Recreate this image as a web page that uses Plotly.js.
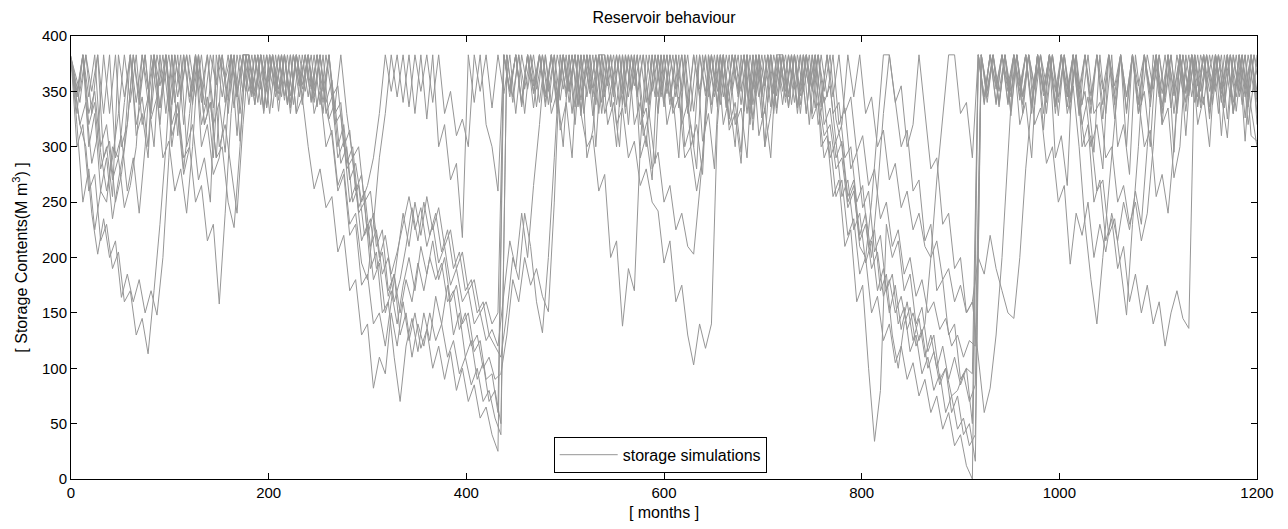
<!DOCTYPE html>
<html>
<head>
<meta charset="utf-8">
<script src="https://cdn.plot.ly/plotly-3.0.1.min.js"></script>
<style>
  html, body { margin: 0; padding: 0; background: #ffffff; }
  #chart { width: 1288px; height: 529px; }
</style>
</head>
<body>
<div id="chart"></div>
<script>
// sample months (two sampling phases)
const monthsA = [0,6,12,18,24,30,36,42,48,54,60,66,72,78,84,90,96,102,108,114,120,126,132,138,144,150,156,162,168,174,180,186,192,198,204,210,216,222,228,234,240,246,252,258,264,270,276,282,288,294,300,306,312,318,324,330,336,342,348,354,360,366,372,378,384,390,396,402,408,414,420,426,432,438,444,450,456,462,468,474,480,486,492,498,504,510,516,522,528,534,540,546,552,558,564,570,576,582,588,594,600,606,612,618,624,630,636,642,648,654,660,666,672,678,684,690,696,702,708,714,720,726,732,738,744,750,756,762,768,774,780,786,792,798,804,810,816,822,828,834,840,846,852,858,864,870,876,882,888,894,900,906,912,918,924,930,936,942,948,954,960,966,972,978,984,990,996,1002,1008,1014,1020,1026,1032,1038,1044,1050,1056,1062,1068,1074,1080,1086,1092,1098,1104,1110,1116,1122,1128,1134,1140,1146,1152,1158,1164,1170,1176,1182,1188,1194,1200];
const monthsB = [0,9,15,21,27,33,39,45,51,57,63,69,75,81,87,93,99,105,111,117,123,129,135,141,147,153,159,165,171,177,183,189,195,201,207,213,219,225,231,237,243,249,255,261,267,273,279,285,291,297,303,309,315,321,327,333,339,345,351,357,363,369,375,381,387,393,399,405,411,417,423,429,435,441,447,453,459,465,471,477,483,489,495,501,507,513,519,525,531,537,543,549,555,561,567,573,579,585,591,597,603,609,615,621,627,633,639,645,651,657,663,669,675,681,687,693,699,705,711,717,723,729,735,741,747,753,759,765,771,777,783,789,795,801,807,813,819,825,831,837,843,849,855,861,867,873,879,885,891,897,903,909,915,921,927,933,939,945,951,957,963,969,975,981,987,993,999,1005,1011,1017,1023,1029,1035,1041,1047,1053,1059,1065,1071,1077,1083,1089,1095,1101,1107,1113,1119,1125,1131,1137,1143,1149,1155,1161,1167,1173,1179,1185,1191,1197,1200];

// storage contents (M m^3) of each simulation
const sim1 = [
380,300,320,260,275,215,230,190,205,160,
170,130,145,113,170,230,300,383,345,383,
340,383,352,383,335,383,360,383,345,383,
350,383,338,383,355,383,342,383,330,345,
300,262,280,245,255,205,220,170,180,130,
140,82,110,95,150,120,160,125,150,118,
135,100,120,90,115,80,100,70,85,55,
65,40,25,383,350,383,340,383,355,383,
345,383,338,383,350,383,330,300,310,260,
275,200,215,138,190,170,300,383,350,383,
340,383,352,383,336,383,345,383,330,383,
320,345,300,383,330,383,310,335,290,383,
338,383,352,383,330,383,320,345,290,305,
255,270,225,240,195,215,170,190,150,175,
135,160,125,145,110,130,100,120,90,110,
85,100,95,383,345,383,340,383,355,383,
342,383,330,383,350,383,336,383,345,383,
352,383,338,383,325,383,348,383,333,383,
330,350,300,383,320,383,295,383,310,383,
345,383,330,383,352,383,340,383,326,383,
350];
const sim2 = [
378,320,300,240,203,235,200,215,164,185,
160,180,150,170,148,200,290,383,345,383,
350,383,338,383,356,383,342,383,330,383,
348,383,336,383,352,383,340,383,345,383,
352,383,340,383,320,330,280,290,240,250,
190,205,150,160,110,70,120,145,115,150,
125,165,140,175,130,150,110,125,90,105,
70,80,50,383,340,383,352,383,336,383,
350,383,342,383,330,383,355,383,338,383,
320,340,300,383,350,383,310,330,285,383,
348,383,335,383,300,320,275,383,345,383,
340,383,352,383,330,383,345,383,337,383,
350,383,335,383,320,383,300,310,255,270,
210,225,160,175,100,34,80,230,200,215,
170,185,140,155,115,130,90,100,60,75,
40,50,16,383,345,383,336,383,350,383,
338,383,355,383,330,383,345,383,340,383,
300,320,250,270,215,235,190,210,160,185,
150,175,140,160,120,150,170,145,136,383,
350,383,338,383,355,383,332,383,345,383,
365];
const sim3 = [
382,320,250,280,225,260,250,300,290,340,
383,310,330,290,383,320,383,300,340,280,
330,383,320,345,290,383,340,383,310,383,
383,346,383,335,383,352,383,340,383,356,
383,345,383,340,360,300,320,270,285,250,
265,290,330,383,350,383,340,383,330,383,
325,383,300,320,270,285,218,383,340,383,
320,300,260,383,345,383,338,383,350,383,
336,383,348,383,340,383,332,383,353,383,
345,383,320,335,290,305,265,280,250,242,
195,215,160,175,130,103,140,118,140,320,
383,345,383,338,383,352,383,330,383,346,
383,336,383,350,383,325,340,290,305,255,
270,220,235,185,200,150,165,125,140,105,
120,90,105,75,90,60,75,45,60,30,
40,12,0,383,340,383,355,383,338,383,
350,383,335,383,346,383,330,383,352,383,
340,300,310,260,270,220,235,190,148,230,
300,383,345,383,336,383,350,383,332,383,
320,345,300,383,310,383,330,383,305,383,
330];
const sim4 = [
380,345,383,300,330,260,290,235,270,300,
383,340,383,352,383,335,383,320,340,290,
300,250,265,215,230,158,240,330,383,350,
383,338,383,355,383,342,383,330,383,352,
383,340,383,330,345,290,305,250,265,215,
230,180,195,150,170,140,175,200,170,210,
185,215,180,200,160,175,140,150,115,125,
90,95,60,383,352,383,336,383,348,383,
340,383,330,383,355,383,342,383,328,383,
350,383,338,383,345,383,320,335,280,295,
250,265,225,240,210,203,260,320,383,350,
383,315,330,285,383,325,383,300,383,330,
383,345,383,338,383,350,383,320,335,290,
305,255,270,220,240,200,260,330,383,340,
355,300,320,383,330,280,290,230,240,190,
200,150,160,110,60,82,130,200,290,383,
345,383,338,383,352,383,340,383,330,355,
300,230,180,140,200,260,320,383,345,383,
338,383,352,383,330,383,346,383,340,383,
355,383,336,383,348,383,330,383,345,383,
340];
const sim5 = [
381,340,383,350,383,330,383,290,310,260,
290,240,300,383,345,383,332,383,350,383,
338,383,320,340,290,300,250,227,300,383,
345,383,332,383,350,383,338,383,355,383,
342,383,330,383,330,340,285,300,245,260,
210,225,185,200,160,180,210,245,215,250,
220,240,205,225,190,205,170,180,150,160,
130,120,110,150,200,180,240,210,160,132,
200,290,383,350,383,336,383,348,383,340,
383,352,383,330,383,345,383,338,383,350,
383,335,383,300,320,280,383,345,383,338,
383,350,383,332,383,346,383,340,383,355,
383,338,383,350,383,335,383,345,383,320,
335,280,295,245,260,205,220,170,185,140,
155,115,130,95,110,80,95,60,75,45,
55,30,40,383,350,383,338,383,345,383,
330,383,352,383,340,383,328,383,346,383,
338,383,330,340,290,300,250,265,230,250,
215,240,300,383,345,383,336,383,350,383,
340,383,355,383,335,383,345,383,320,360,
320];
const sim6 = [
379,330,383,345,383,300,320,270,290,245,
265,300,383,340,383,355,383,338,383,320,
383,345,383,330,383,300,320,280,240,320,
383,350,383,336,383,348,383,335,383,345,
383,330,350,300,315,265,280,230,240,195,
180,230,290,330,383,345,383,336,383,350,
383,340,383,330,350,310,325,300,383,350,
383,335,383,348,383,330,383,352,383,340,
383,330,350,300,383,320,383,290,315,383,
383,336,383,348,383,320,340,300,383,345,
383,338,383,350,383,332,383,346,383,340,
383,325,383,350,383,338,383,355,383,335,
383,348,383,330,383,352,383,340,355,305,
320,383,345,383,330,345,300,315,270,285,
245,260,225,240,210,200,215,180,190,160,
175,150,160,200,185,220,190,170,150,145,
200,280,340,383,350,383,336,383,345,383,
330,350,300,320,280,383,325,383,300,383,
355,383,336,383,348,383,330,383,350,383,
338,383,325,383,345,308,383,350,383,335,
300];
const sim7 = [
380,350,383,330,383,290,305,250,275,320,
383,345,383,330,383,352,383,340,383,300,
320,270,290,250,383,345,383,335,383,350,
383,340,383,330,383,345,383,338,383,350,
383,336,383,325,340,285,300,250,265,220,
235,190,205,165,185,150,180,160,195,170,
200,180,195,160,170,135,150,120,130,100,
110,90,95,130,180,160,200,175,190,165,
151,250,383,345,383,338,383,352,383,330,
383,345,383,336,383,350,383,328,383,345,
383,330,345,290,300,260,290,383,350,383,
336,383,345,383,320,383,350,383,330,383,
345,383,338,383,352,383,340,383,330,340,
290,300,250,265,210,225,170,185,130,100,
140,155,120,135,100,115,85,100,75,80,
95,70,85,383,340,383,350,383,332,383,
345,383,320,335,285,300,250,265,194,240,
220,250,200,230,205,240,215,250,225,260,
230,300,383,345,383,335,383,350,383,340,
383,355,383,330,383,345,383,338,383,350,
383];
const sim8 = [
379,345,383,330,350,295,260,290,330,383,
340,383,320,345,300,383,330,383,310,383,
345,383,300,320,275,290,335,383,350,383,
338,383,352,383,335,383,346,383,330,383,
345,383,338,383,345,355,300,315,260,275,
220,240,200,220,185,205,230,255,225,245,
210,230,195,210,175,190,160,170,140,150,
125,135,120,170,215,190,240,200,265,320,
383,340,383,352,383,336,383,345,383,330,
383,350,383,338,383,355,383,340,383,330,
383,345,383,320,340,300,383,350,383,336,
383,320,340,295,383,315,383,300,330,383,
383,335,383,346,383,330,383,350,383,325,
300,250,265,210,200,250,320,383,383,340,
300,315,260,270,215,230,170,180,130,140,
90,100,50,383,338,383,352,383,340,383,
355,383,338,383,330,383,350,383,336,383,
345,383,330,383,352,383,338,383,345,383,
330,383,348,383,320,335,272,300,383,345,
383,338,383,350,383,325,383,345,383,310,
305];
const sim9 = [
380,320,340,285,310,383,330,383,300,320,
383,338,383,325,345,290,305,260,280,240,
300,383,320,340,290,383,330,383,305,383,
352,383,330,383,345,383,338,383,355,383,
340,383,350,383,336,383,330,290,300,250,
260,210,225,170,185,130,150,110,140,120,
150,125,140,110,125,95,110,85,100,70,
80,55,40,383,345,383,330,383,352,383,
338,383,315,340,290,383,330,383,300,383,
355,383,336,383,348,383,330,383,345,383,
320,345,290,383,332,383,305,330,280,383,
335,383,350,383,338,383,326,383,348,383,
340,383,330,383,352,383,336,383,345,383,
330,345,295,310,265,280,235,250,210,225,
185,200,165,180,150,160,135,145,120,130,
110,125,120,383,352,383,340,383,328,383,
346,383,338,383,355,383,340,383,330,383,
320,345,295,383,330,383,300,320,275,383,
338,383,352,383,340,383,330,383,346,383,
335,383,348,383,340,383,355,383,336,383,
372];
const sim10 = [
380,350,383,320,340,280,300,255,383,345,
383,320,345,300,383,335,383,310,330,275,
300,383,340,383,320,340,295,383,345,383,
383,338,383,350,383,332,383,346,383,338,
383,350,383,335,310,260,275,220,230,175,
185,140,150,120,160,200,240,210,250,220,
255,225,245,210,225,190,205,170,180,150,
160,140,150,383,350,383,340,383,335,383,
348,383,336,383,350,383,328,383,345,383,
330,350,300,383,320,383,290,310,270,383,
336,383,345,383,330,383,352,383,338,383,
345,383,320,335,290,383,345,383,336,383,
350,383,340,383,330,383,345,310,320,280,
290,245,260,215,230,190,205,165,180,150,
165,135,150,125,140,200,270,330,383,383,
330,340,290,383,345,383,338,383,350,383,
320,340,290,383,315,383,290,310,265,383,
328,383,346,383,338,383,355,383,330,383,
345,300,315,255,275,240,300,383,348,383,
336,383,350,383,340,383,330,383,352,383,
345];

const simulations = [sim1, sim2, sim3, sim4, sim5, sim6, sim7, sim8, sim9, sim10];
const sampleMonths = [monthsA, monthsB, monthsA, monthsA, monthsB, monthsA, monthsB, monthsA, monthsB, monthsA];
const legendLabel = 'storage simulations';
const xTicks = [0, 200, 400, 600, 800, 1000, 1200];
const yTicks = [0, 50, 100, 150, 200, 250, 300, 350, 400];

const lineColor = 'rgb(150,150,150)';
const traces = simulations.map((ys, i) => ({
  type: 'scatter',
  mode: 'lines',
  x: sampleMonths[i],
  y: ys,
  name: legendLabel,
  legendgroup: 'sims',
  showlegend: i === 0,
  line: { color: lineColor, width: 1 },
  hoverinfo: 'skip'
}));

const fontFam = 'Liberation Sans, Arial, sans-serif';
const layout = {
  width: 1288,
  height: 529,
  paper_bgcolor: '#ffffff',
  plot_bgcolor: '#ffffff',
  margin: { l: 71, r: 31, t: 36, b: 50, pad: 0 },
  font: { family: fontFam, size: 15, color: '#000000' },
  title: {
    text: 'Reservoir behaviour',
    font: { family: fontFam, size: 16, color: '#000000' },
    x: 0.5, xref: 'paper', xanchor: 'center',
    y: 0.967, yref: 'container', yanchor: 'middle'
  },
  xaxis: {
    range: [0, 1200],
    tickvals: xTicks,
    ticktext: xTicks.map(String),
    ticks: 'inside', ticklen: 6, tickwidth: 1, tickcolor: '#000000',
    showline: true, linecolor: '#000000', linewidth: 1, mirror: 'ticks',
    showgrid: false, zeroline: false,
    tickfont: { family: fontFam, size: 15, color: '#000000' },
    title: { text: '[ months ]', font: { family: fontFam, size: 16, color: '#000000' }, standoff: 6 }
  },
  yaxis: {
    range: [0, 400],
    tickvals: yTicks,
    ticktext: yTicks.map(String),
    ticks: 'inside', ticklen: 6, tickwidth: 1, tickcolor: '#000000',
    showline: true, linecolor: '#000000', linewidth: 1, mirror: 'ticks',
    showgrid: false, zeroline: false,
    tickfont: { family: fontFam, size: 15, color: '#000000' },
    title: { text: '[ Storage Contents(M m<sup>3</sup>) ]', font: { family: fontFam, size: 16, color: '#000000' }, standoff: 10 }
  },
  showlegend: true,
  legend: {
    x: 0.407, xanchor: 'left', xref: 'paper',
    y: 0.014, yanchor: 'bottom', yref: 'paper',
    bgcolor: '#ffffff', bordercolor: '#000000', borderwidth: 1,
    font: { family: fontFam, size: 16, color: '#000000' },
    itemwidth: 58
  },
  hovermode: false
};

Plotly.newPlot('chart', traces, layout, { displayModeBar: false, staticPlot: true });
</script>
</body>
</html>
